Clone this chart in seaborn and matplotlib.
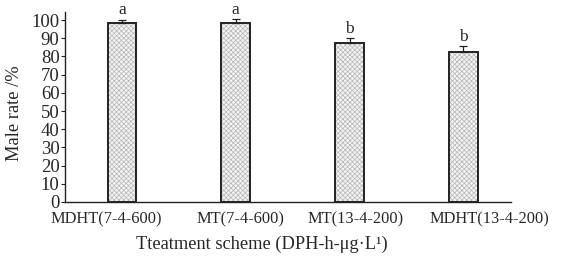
import matplotlib
matplotlib.use("Agg")
import matplotlib.pyplot as plt
import matplotlib.colors as mcolors
import matplotlib.transforms as mtrans
import seaborn as sns
import pandas as pd

# data
schemes = ["MDHT(7-4-600)", "MT(7-4-600)", "MT(13-4-200)", "MDHT(13-4-200)"]
male_rate = [98.5, 98.2, 87.5, 82.2]
err = [1.7, 2.2, 2.5, 3.3]
letters = ["a", "a", "b", "b"]

sns.set_style("white")
plt.rcParams['font.family'] = ['Liberation Serif', 'DejaVu Serif']
plt.rcParams['hatch.linewidth'] = 0.5

df = pd.DataFrame({"scheme": schemes, "rate": male_rate})

f = plt.figure(figsize=(5.61, 2.63), dpi=100)
ax = f.add_axes([0.116, 0.232, 0.795, 0.722])

sns.barplot(data=df, x="scheme", y="rate", color="#f2f2f2", width=0.254,
            edgecolor="#222222", linewidth=1.4, errorbar=None, ax=ax)
#light grey dotted fill, hatch colour otherwise follows the edge colour
for p in ax.patches:
    p.set_hatch("xxxxxxx")
    p._hatch_color = mcolors.to_rgba("#b8b8b8")

ax.errorbar(range(len(schemes)), male_rate, yerr=[[0]*4, err], fmt="none",
            ecolor="#222222", elinewidth=0.9, capsize=3, capthick=0.9)

#letters on top of the error bars
for i, (v, e, l) in enumerate(zip(male_rate, err, letters)):
    ax.text(i, v + e + 0.8, l, ha="center", va="bottom", fontsize=12.5)

ax.set_xlim(-0.5, 3.42)
ax.set_ylim(0, 104.4)
ax.set_yticks(range(0, 101, 10))
ax.tick_params(axis="y", labelsize=13.5, length=3, width=0.8, pad=1, direction="out", left=True)
ax.tick_params(axis="x", labelsize=11.8, length=0, pad=7)

#labels in the original sit a bit off the bar centres
shifts = [-16, 4.5, 6.5, 26]
for lab, dx in zip(ax.get_xticklabels(), shifts):
    lab.set_transform(lab.get_transform() + mtrans.ScaledTranslation(dx / 100, 0, f.dpi_scale_trans))

ax.set_xlabel("Tteatment scheme (DPH-h-μg·L¹)", fontsize=13.2)
ax.xaxis.set_label_coords(0.44, -0.18)
ax.set_ylabel("Male rate /%", fontsize=13.3)
ax.yaxis.set_label_coords(-0.095, 0.47)

sns.despine(ax=ax)
for s in ["left", "bottom"]:
    ax.spines[s].set_color("#222222")
    ax.spines[s].set_linewidth(1.0)

f.savefig("out.png", dpi=100)
